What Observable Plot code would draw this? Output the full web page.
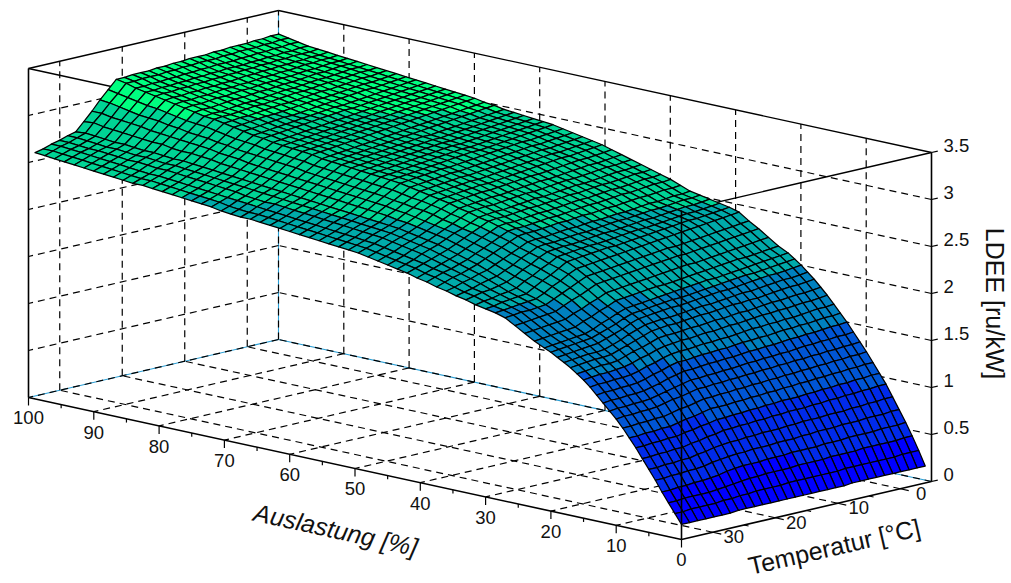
<!DOCTYPE html>
<html><head><meta charset="utf-8">
<script src="https://cdn.jsdelivr.net/npm/d3@7"></script>
<script src="https://cdn.jsdelivr.net/npm/@observablehq/plot@0.6"></script>
<style>html,body{margin:0;padding:0;background:#fff}svg{display:block}</style>
</head><body><div id="chart"></div>
<script>
const temps=[-4,-2.7,-1.4,-0.1,1.2,2.5,3.8,5.1,6.4,7.7,9,10.3,11.6,12.9,14.2,15.5,16.8,18.1,19.4,20.7,22,23.3,24.6,25.9,27.2,28.5,29.8,31.1,32.4,33.7,35];
const loads=[0,1,2,3,4,5,6,7,8,9,10,11,12,13,14,15,16,17,18,19,20,21,22.5,24,25.5,27,28.5,30,31.5,33,34.5,36,37.5,39,40.5,42,43.5,45,46.5,48,49.5,51,52.5,54,55.5,57,58.5,60,61.5,63,64.5,66,67.5,69,70.5,72,73.5,75,76.5,78,79.5,81,82.5,84,85.5,87,88.5,90,91.5,93,94.5,96,97.5,99];
// LDEE in hundredths of ru/kW: one row per load, one column per temperature
const ldee=[
[18,18,18,18,18,18,18,18,18,18,17,17,17,17,17,17,17,17,17,17,17,17,17,17,16,16,16,16,16,16,16],
[33,33,33,32,32,32,32,32,32,32,31,31,31,31,31,31,31,30,30,30,30,29,29,28,28,27,27,27,27,26,26],
[47,47,46,46,46,46,46,45,45,45,45,44,44,44,44,43,43,43,43,42,42,41,40,39,38,37,37,37,37,36,36],
[60,59,59,59,58,58,58,58,57,57,57,56,56,56,56,55,55,55,54,54,54,53,52,50,49,48,48,47,47,46,46],
[72,72,71,71,71,70,70,70,69,69,69,68,68,67,67,67,66,66,66,65,65,64,63,62,60,59,59,58,58,57,57],
[84,84,83,83,82,82,81,81,81,80,80,80,79,79,78,78,78,77,77,76,76,75,74,72,71,69,69,68,68,67,67],
[96,96,95,95,94,94,93,93,92,92,91,91,91,90,90,89,89,88,88,87,87,85,84,82,81,79,79,78,78,77,77],
[106,106,105,105,104,104,103,103,102,102,101,101,101,100,100,99,99,98,98,97,97,95,94,92,91,89,89,88,88,87,87],
[116,116,115,115,114,114,113,113,112,112,111,111,110,110,109,109,108,108,107,107,107,105,103,102,100,98,98,97,97,96,96],
[126,125,125,124,124,123,123,122,122,121,121,120,120,119,119,118,118,117,117,116,116,114,112,111,109,107,107,106,106,105,105],
[135,134,134,133,133,132,132,131,131,130,130,129,129,128,128,127,127,126,126,125,125,123,121,120,118,116,115,115,114,114,113],
[144,143,143,142,142,141,141,140,139,139,138,138,137,137,136,135,135,134,134,133,133,131,129,127,125,123,122,122,121,121,120],
[153,152,152,151,150,150,149,149,148,147,147,146,146,145,144,144,143,143,142,141,141,139,137,134,132,130,129,129,128,128,127],
[161,160,160,159,158,158,157,157,156,155,155,154,154,153,152,152,151,151,150,149,149,147,144,142,139,137,136,136,135,135,134],
[169,168,168,167,166,165,165,164,164,163,163,162,161,160,160,159,159,158,157,157,156,154,151,149,146,144,143,143,142,142,141],
[177,176,175,175,174,173,173,172,172,171,170,169,169,168,167,167,166,165,165,164,163,161,158,156,153,151,150,149,149,148,147],
[184,183,182,182,181,180,180,179,178,177,177,176,175,175,174,173,173,172,171,171,170,167,164,162,159,156,155,155,154,153,152],
[191,190,189,189,188,187,186,185,185,184,184,183,182,181,181,180,179,178,178,177,176,173,170,167,164,161,160,160,159,158,157],
[197,196,195,195,194,193,192,191,191,190,189,188,187,187,186,185,184,183,183,182,181,178,175,171,168,165,164,164,163,162,161],
[203,202,201,200,200,199,198,197,196,195,195,194,193,192,191,190,190,189,188,187,186,183,179,176,173,170,169,168,167,166,165],
[208,207,206,205,204,203,203,202,201,200,199,198,197,196,195,195,194,193,192,191,190,187,183,180,177,174,173,172,171,170,169],
[213,212,211,210,209,208,207,206,205,204,204,203,202,201,200,199,198,197,196,195,194,191,187,184,180,177,176,175,174,173,172],
[218,217,216,215,214,214,213,212,211,210,209,208,207,206,205,205,204,203,202,201,200,196,193,189,186,182,181,180,179,178,177],
[225,224,223,222,221,220,219,218,217,216,216,215,214,213,212,211,210,209,208,207,206,202,199,195,192,188,187,186,185,184,183],
[232,231,230,229,228,227,226,225,224,223,223,222,221,220,219,218,217,216,215,214,213,209,205,202,198,194,193,192,191,190,189],
[238,237,236,235,234,233,232,231,230,229,229,228,227,226,225,224,223,222,221,220,219,215,211,207,203,199,198,197,197,196,195],
[245,244,243,242,241,240,239,238,237,236,235,234,233,232,231,230,229,228,227,226,225,221,216,212,207,203,202,201,200,199,198],
[248,247,246,245,244,244,243,242,241,240,239,238,237,236,235,235,234,233,232,231,230,225,220,216,211,206,205,204,203,201,200],
[250,249,248,247,247,246,245,244,243,242,242,241,240,239,238,237,237,236,235,234,233,228,224,219,215,210,208,207,205,204,202],
[252,251,250,250,249,248,247,246,246,245,244,243,242,242,241,240,239,238,238,237,236,232,227,223,218,214,212,210,209,207,205],
[254,253,253,252,251,250,250,249,248,247,247,246,245,244,243,243,242,241,240,240,239,235,231,226,222,218,216,214,211,209,207],
[256,255,255,254,253,253,252,251,250,250,249,248,248,247,246,246,245,244,243,243,242,238,234,230,226,222,220,217,215,212,210],
[260,259,259,258,257,257,256,255,254,254,253,252,252,251,250,250,249,248,247,247,246,242,238,234,230,226,223,220,218,215,212],
[264,263,263,262,261,260,260,259,258,257,257,256,255,254,253,253,252,251,250,250,249,245,241,237,233,229,226,223,221,218,215],
[267,266,266,265,264,263,263,262,261,260,260,259,258,257,256,256,255,254,253,253,252,248,244,240,236,232,229,226,223,220,217],
[270,269,269,268,267,266,266,265,264,263,263,262,261,260,259,259,258,257,256,256,255,251,247,243,239,235,232,229,226,223,220],
[273,272,271,271,270,269,268,267,267,266,265,264,263,263,262,261,260,259,259,258,257,253,249,246,242,238,235,232,228,225,222],
[276,275,274,274,273,272,271,270,270,269,268,267,266,266,265,264,263,262,262,261,260,256,252,248,244,240,237,234,230,227,224],
[279,278,277,276,276,275,274,273,272,271,271,270,269,268,267,266,266,265,264,263,262,258,254,250,246,242,239,236,232,229,226],
[282,281,280,279,279,278,277,276,275,274,274,273,272,271,270,269,269,268,267,266,265,261,257,252,248,244,241,238,234,231,228],
[285,284,283,282,281,281,280,279,278,277,276,275,274,273,272,272,271,270,269,268,267,263,259,254,250,246,243,240,236,233,230],
[287,286,285,284,283,283,282,281,280,279,278,277,276,275,274,274,273,272,271,270,269,265,260,256,251,247,244,241,237,234,231],
[289,288,287,286,285,285,284,283,282,281,280,279,278,277,276,276,275,274,273,272,271,266,262,257,253,248,245,242,238,235,232],
[291,290,289,288,287,287,286,285,284,283,282,281,280,279,278,278,277,276,275,274,273,268,263,259,254,249,246,243,239,236,233],
[293,292,291,290,289,289,288,287,286,285,284,283,282,281,280,280,279,278,277,276,275,270,265,260,255,250,247,244,240,237,234],
[295,294,293,292,291,290,289,288,287,286,286,285,284,283,282,281,280,279,278,277,276,271,266,261,256,251,248,245,241,238,235],
[296,295,294,293,292,291,290,289,288,287,287,286,285,284,283,282,281,280,279,278,277,272,267,262,257,252,249,246,242,239,236],
[297,296,295,294,293,292,291,290,289,288,288,287,286,285,284,283,282,281,280,279,278,273,268,263,258,253,250,247,243,240,237],
[298,297,296,295,294,293,292,291,290,289,289,288,287,286,285,284,283,282,281,280,279,274,269,264,259,254,251,248,244,241,238],
[299,298,297,296,295,294,293,292,291,290,290,289,288,287,286,285,284,283,282,281,280,275,270,265,260,255,252,249,245,242,239],
[300,299,298,297,296,295,294,293,292,291,291,290,289,288,287,286,285,284,283,282,281,276,271,266,261,256,253,250,246,243,240],
[302,301,300,299,298,297,296,295,294,293,292,291,290,289,288,287,286,285,284,283,282,277,272,267,262,257,254,251,247,244,241],
[303,302,301,300,299,298,297,296,295,294,293,292,291,290,289,288,287,286,285,284,283,278,273,268,263,258,255,251,248,244,241],
[305,304,303,302,301,300,299,298,297,296,295,294,293,292,291,290,289,288,287,286,285,280,275,269,264,259,256,252,249,245,242],
[306,305,304,303,302,301,300,299,298,297,296,295,294,293,292,291,290,289,288,287,286,281,276,270,265,260,257,253,250,246,243],
[307,306,305,304,303,302,301,300,299,298,297,296,295,294,293,292,291,290,289,288,287,282,277,271,266,261,258,255,251,248,245],
[308,307,306,305,304,303,302,301,300,299,298,297,296,295,294,293,292,291,290,289,288,283,278,272,267,262,259,256,252,249,246],
[309,308,307,306,305,304,303,302,301,300,299,298,297,296,295,294,293,292,291,290,289,284,279,273,268,263,260,257,253,250,247],
[310,309,308,307,306,305,304,303,302,301,301,300,299,298,297,296,295,294,293,292,291,286,280,275,269,264,261,258,254,251,248],
[311,310,309,308,307,306,305,304,303,302,302,301,300,299,298,297,296,295,294,293,292,287,281,276,270,265,262,259,255,252,249],
[312,311,310,309,308,308,307,306,305,304,303,302,301,300,299,299,298,297,296,295,294,288,283,277,272,266,263,260,256,253,250],
[313,312,311,310,310,309,308,307,306,305,305,304,303,302,301,300,300,299,298,297,296,290,284,279,273,267,264,261,257,254,251],
[314,313,312,312,311,310,309,308,308,307,306,305,304,304,303,302,301,300,300,299,298,292,286,280,274,268,265,262,258,255,252],
[315,314,314,313,312,311,311,310,309,308,308,307,306,305,304,304,303,302,301,301,300,294,287,281,274,268,265,262,258,255,252],
[316,315,315,314,313,312,312,311,310,309,309,308,307,306,305,305,304,303,302,302,301,295,288,282,275,269,266,263,259,256,253],
[317,316,316,315,314,314,313,312,311,311,310,309,309,308,307,307,306,305,304,304,303,296,290,283,277,270,267,264,260,257,254],
[318,317,317,316,315,315,314,313,313,312,312,311,310,310,309,308,308,307,306,306,305,298,291,284,277,270,267,264,261,258,255],
[319,318,318,317,317,316,315,315,314,314,313,312,312,311,311,310,309,309,308,308,307,300,293,285,278,271,268,265,262,259,256],
[320,319,319,318,318,317,317,316,316,315,315,314,313,313,312,312,311,311,310,310,309,302,294,287,279,272,269,266,263,260,257],
[321,320,320,320,319,319,318,318,317,317,316,316,315,315,314,314,313,313,312,312,311,303,295,288,280,272,269,267,264,261,258],
[322,322,321,321,320,320,319,319,318,318,318,317,317,316,316,315,315,314,314,313,313,305,297,289,281,273,270,267,265,262,259],
[324,324,323,323,322,322,321,321,320,320,320,319,319,318,318,317,317,316,316,315,315,307,299,290,282,274,271,268,266,263,260],
[326,326,325,325,324,324,324,323,323,322,322,322,321,321,320,320,319,319,319,318,318,309,301,292,284,275,272,269,267,264,261],
[328,328,327,327,326,326,326,325,325,324,324,324,323,323,322,322,321,321,321,320,320,311,302,292,283,274,272,269,267,264,262]
];
const zTicks=[0,0.5,1,1.5,2,2.5,3,3.5];
const loadTicks=[0,10,20,30,40,50,60,70,80,90,100];
const loadMinor=[5,15,25,35,45,55,65,75,85,95];
const tempTicks=[0,10,20,30];
const tempMinor=[5,15,25];
const bandLimits=[0.5,1,1.5,2,2.5,3];
const bandColors=["#0000ff","#002aea","#0055d5","#0080bf","#00aaaa","#00d495","#00ff80"];
const T0=-5,T1=35,L1=100,ZMAX=3.5;

// orthographic view of the (load, temperature, LDEE) box
const px=(L,T)=>931-653*L/L1-250*(T-T0)/(T1-T0);
const py=(L,T,z)=>481-142*L/L1+58*(T-T0)/(T1-T0)-94*z;
const seg=(La,Ta,za,Lb,Tb,zb)=>({x1:px(La,Ta),y1:py(La,Ta,za),x2:px(Lb,Tb),y2:py(Lb,Tb,zb)});

const cells=[];
for(let i=loads.length-2;i>=0;i--)for(let j=0;j<temps.length-1;j++){
  const corners=[[i,j],[i+1,j],[i+1,j+1],[i,j+1],[i,j]];
  const mean=d3.mean(corners.slice(0,4),([a,b])=>ldee[a][b]/100);
  for(const [a,b] of corners)cells.push({cell:i*100+j,x:px(loads[a],temps[b]),y:py(loads[a],temps[b],ldee[a][b]/100),v:mean});
}

const gridInner=[
  ...tempTicks.map(t=>seg(0,t,0,L1,t,0)),
  ...loadTicks.filter(l=>l>0&&l<100).map(l=>seg(l,T0,0,l,T1,0)),
  ...tempTicks.map(t=>seg(L1,t,0,L1,t,ZMAX)),
  ...loadTicks.filter(l=>l>0&&l<100).map(l=>seg(l,T0,0,l,T0,ZMAX)),
  ...zTicks.slice(1,-1).map(z=>seg(L1,T0,z,L1,T1,z)),
  ...zTicks.slice(1,-1).map(z=>seg(0,T0,z,L1,T0,z))
];
const gridEdge=[seg(L1,T0,0,L1,T1,0),seg(0,T0,0,L1,T0,0),seg(L1,T0,0,L1,T0,ZMAX)];
const boxBack=[seg(L1,T1,ZMAX,L1,T0,ZMAX),seg(L1,T0,ZMAX,0,T0,ZMAX),seg(L1,T1,ZMAX,0,T1,ZMAX),seg(0,T1,ZMAX,0,T0,ZMAX)];
const boxFront=[
  seg(L1,T1,0,L1,T1,ZMAX),seg(0,T0,0,0,T0,ZMAX),seg(0,T1,0,0,T1,ZMAX),
  seg(L1,T1,0,0,T1,0),seg(0,T1,0,0,T0,0)
];
const ticks=[
  ...loadTicks.map(l=>seg(l,T1,0,l,T1,-0.085)),
  ...loadMinor.map(l=>seg(l,T1,0,l,T1,-0.04)),
  ...tempTicks.map(t=>seg(0,t,0,-1.3,t,0)),
  ...tempMinor.map(t=>seg(0,t,0,-0.7,t,0)),
  ...zTicks.map(z=>seg(0,T0,z,0,T0-1,z))
];
const font="Liberation Sans, Arial, sans-serif";
const chart=Plot.plot({
  width:1011,height:583,margin:0,
  x:{domain:[0,1011],range:[0,1011],axis:null},
  y:{domain:[0,583],range:[0,583],axis:null},
  color:{type:"threshold",domain:bandLimits,range:bandColors},
  marks:[
    Plot.link(gridEdge,{x1:"x1",y1:"y1",x2:"x2",y2:"y2",stroke:"#2a9fd6",strokeWidth:1.1}),
    Plot.link(gridEdge,{x1:"x1",y1:"y1",x2:"x2",y2:"y2",stroke:"#000",strokeWidth:1.2,strokeDasharray:"7,5"}),
    Plot.link(gridInner,{x1:"x1",y1:"y1",x2:"x2",y2:"y2",stroke:"#000",strokeWidth:1.2,strokeDasharray:"7,5"}),
    Plot.link(boxBack,{x1:"x1",y1:"y1",x2:"x2",y2:"y2",stroke:"#000",strokeWidth:1.4}),
    Plot.line(cells,{x:"x",y:"y",z:"cell",fill:"v",stroke:"#000",strokeWidth:1.25,curve:"linear"}),
    Plot.link(boxFront,{x1:"x1",y1:"y1",x2:"x2",y2:"y2",stroke:"#000",strokeWidth:1.6}),
    Plot.link(ticks,{x1:"x1",y1:"y1",x2:"x2",y2:"y2",stroke:"#000",strokeWidth:1.2}),
    Plot.text(loadTicks,{x:l=>px(l,T1),y:l=>py(l,T1,0),dy:21,text:l=>String(l),fontSize:18.5,fontFamily:font,fill:"#111"}),
    Plot.text(tempTicks,{x:t=>px(0,t),y:t=>py(0,t,0),dx:21,dy:5,text:t=>String(t),fontSize:18.5,fontFamily:font,fill:"#111"}),
    Plot.text(zTicks,{x:()=>px(0,T0),y:z=>py(0,T0,z),dx:12,dy:-6,textAnchor:"start",text:z=>String(z),fontSize:18.5,fontFamily:font,fill:"#111"}),
    Plot.text(["Auslastung [%]"],{x:()=>335,y:()=>530,rotate:12.4,fontSize:25,fontStyle:"italic",fontFamily:font,fill:"#111"}),
    Plot.text(["Temperatur [°C]"],{x:()=>834,y:()=>547,rotate:-13,fontSize:25,fontFamily:font,fill:"#111"}),
    Plot.text(["LDEE [ru/kW]"],{x:()=>993,y:()=>303,rotate:90,fontSize:25,fontFamily:font,fill:"#111"})
  ]
});
document.getElementById("chart").append(chart);
</script></body></html>
